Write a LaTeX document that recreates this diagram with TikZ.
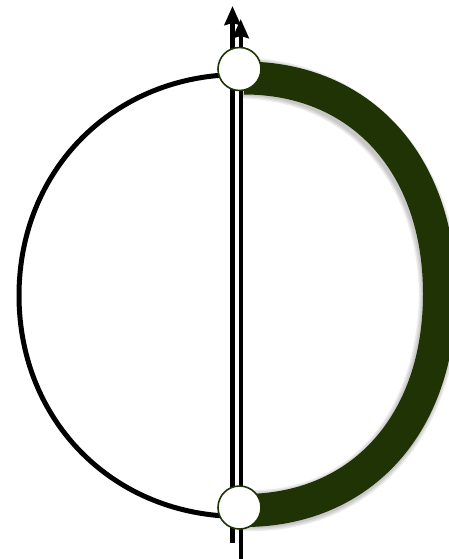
\documentclass[tikz,border=0pt]{standalone}
\usetikzlibrary{arrows.meta}
\definecolor{dkgreen}{HTML}{1F3305}
\begin{document}
\begin{tikzpicture}[x=1pt,y=-1pt,
  blackarc/.style={line width=5pt, black},
  band/.style={line width=33pt, dkgreen},
  bandshadow/.style={line width=#1, black, opacity=0.08},
  vline/.style={line width=4.3pt, black, -{Stealth[length=19pt,width=16pt,inset=2pt]}},
  port/.style={circle, draw=dkgreen, line width=1.6pt, fill=white, minimum size=43pt, inner sep=0pt}]
\useasboundingbox (0,0) rectangle (449,559);
\clip (0,0) rectangle (449,559);
% key points
\coordinate (ptop) at (239.5,69);
\coordinate (pbot) at (239.5,507.5);
\coordinate (gs) at (244,78);
\coordinate (gr) at (439.5,294);
\coordinate (ge) at (244,510.5);
\coordinate (bt) at (240,74.5);
\coordinate (bl) at (19,295.5);
\coordinate (bb) at (240,516.5);
\coordinate (a1s) at (232.5,543);
\coordinate (a1e) at (232.5,6);
\coordinate (a2s) at (240.7,559);
\coordinate (a2e) at (240.7,19);
% shadow of green band
\begin{scope}[shift={(-2.5,4)}]
\foreach \w in {41pt,38pt,35pt}
  \draw[bandshadow=\w] (gs) .. controls (361.3,78) and (439.5,164.4) .. (gr)
     .. controls (439.5,423.9) and (361.3,510.5) .. (ge);
\end{scope}
% green band
\draw[band] (gs) .. controls (361.3,78) and (439.5,164.4) .. (gr)
     .. controls (439.5,423.9) and (361.3,510.5) .. (ge);
% black arc
\draw[blackarc] (bt) .. controls (114,74.5) and (19,169.5) .. (bl)
     .. controls (19,421.5) and (114,516.5) .. (bb);
% vertical arrows
\draw[vline] (a1s) -- (a1e);
\draw[vline] (a2s) -- (a2e);
% ports
\node[port] (top) at (ptop) {};
\node[port] (bot) at (pbot) {};
\end{tikzpicture}
\end{document}
